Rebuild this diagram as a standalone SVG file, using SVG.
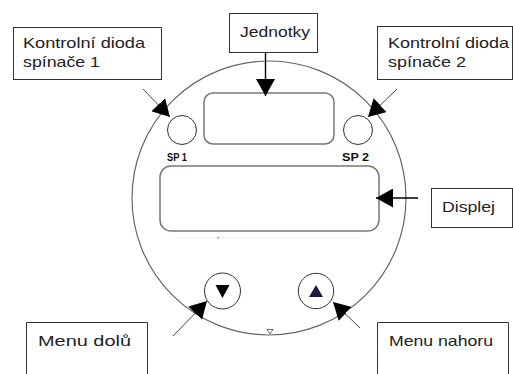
<svg xmlns="http://www.w3.org/2000/svg" width="513" height="374" viewBox="0 0 513 374">
<style>
.lbl{fill:#fff;stroke:#333;stroke-width:1}
.t{font-family:"Liberation Sans",Arial,sans-serif;font-size:15px;fill:#222}
.sp{font-family:"Liberation Sans",Arial,sans-serif;font-size:10.5px;font-weight:bold;fill:#111}
.dev{fill:none;stroke:#666;stroke-width:1.2}
.win{fill:#fff;stroke:#777;stroke-width:1.5}
.led{fill:#fff;stroke:#333;stroke-width:1}
.c{fill:none;stroke:#444;stroke-width:1}
.cb{fill:none;stroke:#000;stroke-width:1.4}
</style>
<defs>
<marker id="ah" markerUnits="userSpaceOnUse" markerWidth="18" markerHeight="19" refX="17" refY="9.5" orient="auto">
<path d="M0,0 L17,9.5 L0,19 Z" fill="#000"/>
</marker>
</defs>
<rect width="513" height="374" fill="#fff"/>
<g id="device">
<circle cx="269" cy="198" r="137" class="dev"/>
<rect x="204" y="93" width="130" height="51" rx="9" class="win"/>
<rect x="160" y="166" width="219" height="65" rx="11" class="win"/>
<line x1="175" y1="237.5" x2="363" y2="237.5" stroke="#eeeef4" stroke-width="1"/>
<rect x="217.5" y="237" width="1.5" height="1.5" fill="#88a"/>
<path d="M267,329.5 L273,329.5 L270,334 Z" fill="none" stroke="#44a" stroke-width="0.8"/>
</g>
<g id="led-sp1">
<circle cx="182" cy="130" r="14.5" class="led"/>
<text x="167" y="161" class="sp" textLength="20" lengthAdjust="spacingAndGlyphs">SP 1</text>
</g>
<g id="led-sp2">
<circle cx="358" cy="130" r="14.5" class="led"/>
<text x="342" y="161" class="sp" textLength="27" lengthAdjust="spacingAndGlyphs">SP 2</text>
</g>
<g id="btn-down">
<circle cx="222.5" cy="291" r="18" class="led"/>
<path d="M215.5,285 L229.5,285 L222.5,298 Z" fill="#000"/>
</g>
<g id="btn-up">
<circle cx="316" cy="291" r="17.7" class="led"/>
<path d="M309,297 L323,297 L316,285 Z" fill="#1a1a44"/>
</g>
<g id="box-sp1">
<rect x="13.5" y="27.5" width="148" height="52" class="lbl"/>
<text x="23" y="48" class="t" textLength="122" lengthAdjust="spacingAndGlyphs">Kontrolní dioda</text>
<text x="23" y="66.5" class="t" textLength="77" lengthAdjust="spacingAndGlyphs">spínače 1</text>
</g>
<g id="box-jednotky">
<rect x="229.5" y="13.5" width="88" height="39" class="lbl"/>
<text x="240" y="37" class="t" textLength="70" lengthAdjust="spacingAndGlyphs">Jednotky</text>
</g>
<g id="box-sp2">
<rect x="377.5" y="26.5" width="135" height="53" class="lbl"/>
<text x="388" y="48" class="t" textLength="121" lengthAdjust="spacingAndGlyphs">Kontrolní dioda</text>
<text x="388" y="66.5" class="t" textLength="78" lengthAdjust="spacingAndGlyphs">spínače 2</text>
</g>
<g id="box-displej">
<rect x="431.5" y="188.5" width="81" height="39" class="lbl"/>
<text x="442" y="212" class="t" textLength="53" lengthAdjust="spacingAndGlyphs">Displej</text>
</g>
<g id="box-menu-dolu">
<path d="M26.5,375 L26.5,322.5 L147.5,322.5 L147.5,375" class="lbl"/>
<text x="38" y="346" class="t" textLength="93" lengthAdjust="spacingAndGlyphs">Menu dolů</text>
</g>
<g id="box-menu-nahoru">
<path d="M377.5,375 L377.5,322.5 L508.5,322.5 L508.5,375" class="lbl"/>
<text x="389" y="346" class="t" textLength="104" lengthAdjust="spacingAndGlyphs">Menu nahoru</text>
</g>
<g id="connectors">
<line x1="143" y1="89" x2="170" y2="117" class="c" marker-end="url(#ah)"/>
<line x1="397" y1="89" x2="368" y2="117" class="c" marker-end="url(#ah)"/>
<line x1="265.5" y1="53" x2="265.5" y2="96" class="cb" marker-end="url(#ah)"/>
<line x1="418" y1="198" x2="376" y2="198" class="cb" marker-end="url(#ah)"/>
<line x1="173" y1="336" x2="207" y2="301" class="c" marker-end="url(#ah)"/>
<line x1="360" y1="328" x2="333" y2="302" class="c" marker-end="url(#ah)"/>
</g>
</svg>
